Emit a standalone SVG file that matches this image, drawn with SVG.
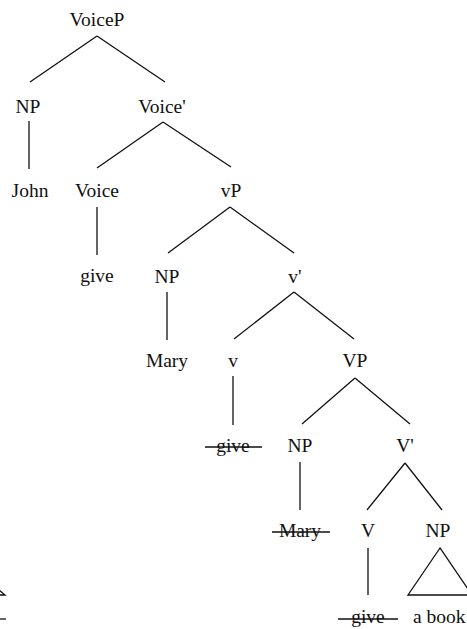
<svg xmlns="http://www.w3.org/2000/svg" width="467" height="629" viewBox="0 0 467 629">
  <style>
    text { font-family: "Liberation Serif", "Times New Roman", serif; font-size: 19.5px; fill: #111; text-anchor: middle; }
    .edge { stroke: #111; stroke-width: 1.3; fill: none; }
    .strike { stroke: #111; stroke-width: 1.3; }
  </style>
  <rect width="467" height="629" fill="#fff"/>

  <!-- connectors -->
  <g id="edges" class="edge">
    <line x1="97" y1="36" x2="30" y2="82"/>
    <line x1="97" y1="36" x2="165" y2="82"/>
    <line x1="29" y1="121" x2="29" y2="169"/>
    <line x1="163" y1="122" x2="97" y2="168"/>
    <line x1="163" y1="122" x2="231" y2="167"/>
    <line x1="97" y1="207" x2="97" y2="255"/>
    <line x1="230" y1="207" x2="168" y2="253"/>
    <line x1="230" y1="207" x2="294" y2="253"/>
    <line x1="167" y1="292" x2="167" y2="340"/>
    <line x1="294" y1="292" x2="234" y2="339"/>
    <line x1="294" y1="292" x2="354" y2="339"/>
    <line x1="233" y1="376" x2="233" y2="425"/>
    <line x1="355" y1="378" x2="302" y2="424"/>
    <line x1="355" y1="378" x2="410" y2="424"/>
    <line x1="300" y1="462" x2="300" y2="510"/>
    <line x1="405" y1="463" x2="367" y2="510"/>
    <line x1="405" y1="463" x2="442" y2="510"/>
    <line x1="368" y1="548" x2="368" y2="595"/>
    <polygon points="440,548 408,595 472,595"/>
    <polyline points="-12,581 5,595 -30,595"/>
  </g>

  <!-- nodes -->
  <g id="n-voicep"><text x="97" y="26">VoiceP</text></g>
  <g id="n-np1"><text x="28" y="113">NP</text></g>
  <g id="n-voicebar"><text x="162" y="113">Voice'</text></g>
  <g id="n-john"><text x="30" y="197">John</text></g>
  <g id="n-voice"><text x="97" y="197">Voice</text></g>
  <g id="n-vp-little"><text x="231" y="197">vP</text></g>
  <g id="n-give1"><text x="97" y="282">give</text></g>
  <g id="n-np2"><text x="167" y="283">NP</text></g>
  <g id="n-vbar-little"><text x="295" y="283">v'</text></g>
  <g id="n-mary1"><text x="167" y="367">Mary</text></g>
  <g id="n-v-little"><text x="233" y="367">v</text></g>
  <g id="n-vp"><text x="355" y="367">VP</text></g>
  <g id="n-give2"><text x="233" y="452">give</text><line class="strike" x1="205" y1="447" x2="262" y2="447"/></g>
  <g id="n-np3"><text x="300" y="452">NP</text></g>
  <g id="n-vbar"><text x="405" y="452">V'</text></g>
  <g id="n-mary2"><text x="300" y="537">Mary</text><line class="strike" x1="272" y1="532" x2="330" y2="532"/></g>
  <g id="n-v"><text x="368" y="537">V</text></g>
  <g id="n-np4"><text x="438" y="537">NP</text></g>
  <g id="n-give3"><text x="368" y="623">give</text><line class="strike" x1="338" y1="619" x2="398" y2="619"/></g>
  <g id="n-abook"><text x="413" y="623" style="text-anchor:start">a book</text></g>
  <g id="n-edge-left"><line class="strike" x1="-20" y1="619" x2="6" y2="619"/></g>
</svg>
